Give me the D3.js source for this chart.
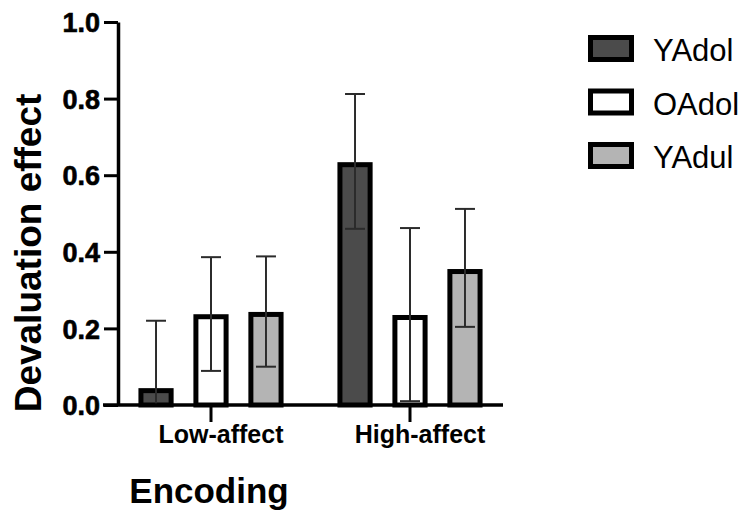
<!DOCTYPE html>
<html>
<head>
<meta charset="utf-8">
<script src="https://cdn.jsdelivr.net/npm/d3@7"></script>
<style>
  body { margin: 0; background: #fff; }
  svg { display: block; }
  .axis text { font-family: "Liberation Sans", Arial, sans-serif; font-weight: bold; }
</style>
</head>
<body>
<svg id="viz" width="743" height="516"></svg>
<script>
"use strict";
// values
const categories = ["Low-affect", "High-affect"];
const series = ["YAdol", "OAdol", "YAdul"];
const fills = ["#4b4b4b", "#ffffff", "#b4b4b4"];
// means per series, in category order
const means = {
    YAdol: [0.044, 0.634],
    OAdol: [0.237, 0.235],
    YAdul: [0.243, 0.355]
};
// upper / lower ends of the error bars
const errHigh = {
    YAdol: [0.220, 0.812],
    OAdol: [0.386, 0.462],
    YAdul: [0.388, 0.512]
};
const errLow = {
    YAdol: [0.000, 0.460],
    OAdol: [0.089, 0.010],
    YAdul: [0.100, 0.204]
};
const yTicks = [0, 0.2, 0.4, 0.6, 0.8, 1.0];

let svg = d3.select("#viz");
let yScale = d3.scaleLinear().domain([0, 1]).range([405, 22]);
let x0 = d3.scaleBand().domain(categories).range([111.5, 509.5]);
let x1 = d3.scaleBand().domain(series).range([0, x0.bandwidth()])
    .paddingInner(0.36).paddingOuter(0.49);
let bw = 5; // bar border

let data = [];
categories.forEach((c, ci) => {
    series.forEach((s, si) => {
        data.push({ cat: c, ser: s, v: means[s][ci], hi: errHigh[s][ci], lo: errLow[s][ci], fill: fills[si] });
    });
});

// bars
svg.selectAll(".bar")
    .data(data)
    .enter().append("rect")
    .attr("class", "bar")
    .attr("x", (d) => { return x0(d.cat) + x1(d.ser) + bw / 2; })
    .attr("y", (d) => { return yScale(d.v) + bw / 2; })
    .attr("width", x1.bandwidth() - bw)
    .attr("height", (d) => { return yScale(0) - yScale(d.v) - bw / 2; })
    .attr("fill", (d) => { return d.fill; })
    .attr("stroke", "#000")
    .attr("stroke-width", bw);

// error bars
let err = svg.selectAll(".err")
    .data(data)
    .enter().append("g")
    .attr("class", "err")
    .attr("transform", (d) => { return `translate(${x0(d.cat) + x1(d.ser) + x1.bandwidth() / 2}, 0)`; })
    .attr("stroke", "#2b2b2b")
    .attr("stroke-width", 2);
err.append("line")
    .attr("y1", (d) => { return yScale(d.hi); })
    .attr("y2", (d) => { return yScale(d.lo); });
err.append("line")
    .attr("x1", -10).attr("x2", 10)
    .attr("y1", (d) => { return yScale(d.hi); })
    .attr("y2", (d) => { return yScale(d.hi); });
err.filter((d) => { return d.lo > 0; }).append("line")
    .attr("x1", -10).attr("x2", 10)
    .attr("y1", (d) => { return yScale(d.lo); })
    .attr("y2", (d) => { return yScale(d.lo); });

// y axis
let yAxis = svg.append("g")
    .attr("class", "y axis")
    .attr("transform", "translate(118, 0)")
    .call(d3.axisLeft(yScale).tickValues(yTicks).tickFormat(d3.format(".1f"))
        .tickSize(14).tickSizeOuter(0).tickPadding(4));
yAxis.select(".domain").attr("stroke-width", 3.5);
yAxis.selectAll(".tick line").attr("stroke-width", 3);
yAxis.selectAll("text")
    .attr("font-size", 27)
    .attr("fill", "#000")
    .attr("stroke", "#000")
    .attr("stroke-width", 0.6)
    .attr("dy", "0.36em");

// x axis
let xAxis = svg.append("g")
    .attr("class", "x axis")
    .attr("transform", `translate(0, ${yScale(0)})`)
    .call(d3.axisBottom(x0).tickSize(17).tickSizeOuter(0).tickPadding(3));
xAxis.select(".domain").remove();
xAxis.selectAll(".tick line").attr("stroke-width", 3);
xAxis.selectAll("text")
    .attr("font-family", "'Open Sans', sans-serif")
    .attr("font-size", 25)
    .attr("fill", "#000")
    .attr("dx", 10);
svg.append("line")
    .attr("x1", 103).attr("x2", 503)
    .attr("y1", yScale(0)).attr("y2", yScale(0))
    .attr("stroke", "#000")
    .attr("stroke-width", 3.5);

// axis titles
svg.append("text")
    .attr("transform", "translate(41, 253) rotate(-90)")
    .attr("text-anchor", "middle")
    .attr("font-family", "'Liberation Sans', Arial, sans-serif")
    .attr("font-weight", "bold")
    .attr("font-size", 37)
    .text("Devaluation effect");
svg.append("text")
    .attr("x", 209)
    .attr("y", 503)
    .attr("text-anchor", "middle")
    .attr("font-family", "'Liberation Sans', Arial, sans-serif")
    .attr("font-weight", "bold")
    .attr("font-size", 35)
    .text("Encoding");

// legend
let legend = svg.selectAll(".legend")
    .data(series)
    .enter().append("g")
    .attr("class", "legend")
    .attr("transform", (d, i) => { return `translate(588, ${35 + i * 53.5})`; });
legend.append("rect")
    .attr("x", bw / 2).attr("y", bw / 2)
    .attr("width", 46 - bw).attr("height", 27 - bw)
    .attr("fill", (d, i) => { return fills[i]; })
    .attr("stroke", "#000")
    .attr("stroke-width", bw);
legend.append("text")
    .attr("x", 65)
    .attr("y", 26)
    .attr("font-family", "'Liberation Sans', Arial, sans-serif")
    .attr("font-size", 31)
    .text((d) => { return d; });
</script>
</body>
</html>
